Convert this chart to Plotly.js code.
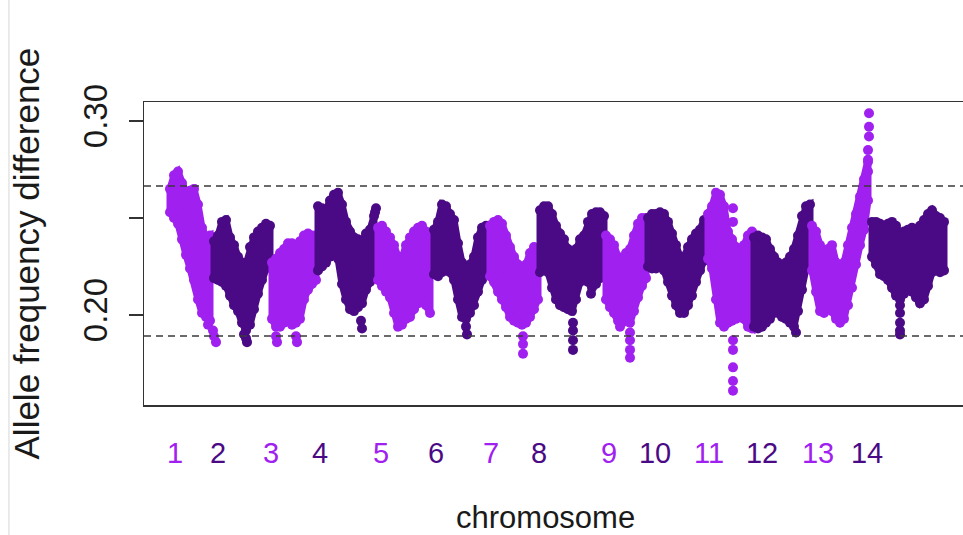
<!DOCTYPE html>
<html>
<head>
<meta charset="utf-8">
<script src="https://cdn.plot.ly/plotly-3.0.1.min.js"></script>
<style>
  html, body { margin: 0; padding: 0; background: #ffffff; overflow: hidden; }
  #chart { width: 980px; height: 535px; }
</style>
</head>
<body>
<div id="chart"></div>
<script>
// Chromosome layout along the genome axis (window index units)
const chromNames = ['1','2','3','4','5','6','7','8','9','10','11','12','13','14'];
const chromStart = [26, 70, 128, 174, 234, 290, 346, 396, 462, 504, 564, 610, 668, 728];
const windowStep = 4;
const labelPos = [31, 74, 127, 176, 237, 292, 347, 395, 465, 511, 565, 618, 674, 723];

// Upper / lower extent of the allele frequency difference per window, chromosome by chromosome
const c1Hi = [0.265,0.272,0.274,0.268,0.263,0.264,0.265,0.257,0.245,0.240,0.241];
const c1Lo = [0.253,0.250,0.247,0.239,0.231,0.224,0.218,0.208,0.201,0.199,0.197];
const c2Hi = [0.238,0.241,0.248,0.249,0.240,0.236,0.230,0.227,0.226,0.235,0.240,0.243,0.245,0.247,0.246];
const c2Lo = [0.219,0.218,0.217,0.215,0.210,0.205,0.202,0.196,0.192,0.195,0.203,0.211,0.218,0.224,0.227];
const c3Hi = [0.227,0.229,0.232,0.234,0.237,0.237,0.236,0.238,0.241,0.242,0.241,0.241];
const c3Lo = [0.198,0.194,0.194,0.196,0.197,0.195,0.196,0.198,0.208,0.213,0.216,0.218];
const c4Hi = [0.256,0.255,0.254,0.259,0.262,0.263,0.257,0.248,0.243,0.240,0.239,0.238,0.242,0.244,0.251];
const c4Lo = [0.223,0.225,0.227,0.230,0.233,0.229,0.216,0.208,0.203,0.202,0.204,0.206,0.213,0.217,0.220];
const c5Hi = [0.245,0.246,0.243,0.240,0.236,0.230,0.229,0.236,0.240,0.243,0.245,0.246,0.243,0.239];
const c5Lo = [0.218,0.215,0.212,0.209,0.201,0.194,0.195,0.198,0.199,0.203,0.206,0.207,0.205,0.201];
const c6Hi = [0.244,0.248,0.257,0.256,0.252,0.249,0.237,0.227,0.225,0.226,0.230,0.240,0.245,0.246];
const c6Lo = [0.221,0.220,0.222,0.223,0.222,0.218,0.208,0.199,0.198,0.201,0.205,0.212,0.218,0.222];
const c7Hi = [0.246,0.248,0.249,0.247,0.241,0.235,0.230,0.226,0.223,0.226,0.232,0.235,0.234];
const c7Lo = [0.220,0.217,0.212,0.208,0.204,0.199,0.197,0.196,0.195,0.196,0.199,0.203,0.208];
const c8Hi = [0.254,0.256,0.256,0.252,0.246,0.242,0.239,0.234,0.227,0.234,0.239,0.241,0.248,0.252,0.253,0.253,0.251];
const c8Lo = [0.222,0.224,0.222,0.214,0.208,0.205,0.204,0.203,0.202,0.208,0.217,0.220,0.217,0.214,0.216,0.219,0.220];
const c9Hi = [0.241,0.239,0.236,0.230,0.229,0.232,0.234,0.241,0.247,0.250,0.250];
const c9Lo = [0.208,0.204,0.201,0.197,0.196,0.197,0.196,0.202,0.209,0.215,0.219];
const c10Hi = [0.250,0.252,0.252,0.253,0.252,0.248,0.242,0.236,0.230,0.230,0.235,0.239,0.242,0.244,0.249];
const c10Lo = [0.225,0.224,0.224,0.225,0.223,0.217,0.210,0.205,0.201,0.201,0.205,0.210,0.217,0.223,0.228];
const c11Hi = [0.252,0.256,0.263,0.262,0.256,0.243,0.239,0.235,0.234,0.236,0.241,0.243];
const c11Lo = [0.229,0.224,0.208,0.196,0.194,0.196,0.197,0.198,0.199,0.198,0.194,0.193];
const c12Hi = [0.240,0.241,0.240,0.239,0.234,0.230,0.227,0.225,0.227,0.230,0.234,0.241,0.251,0.256,0.257];
const c12Lo = [0.194,0.193,0.194,0.196,0.198,0.201,0.201,0.199,0.198,0.196,0.194,0.202,0.213,0.224,0.233];
const c13Hi = [0.246,0.243,0.236,0.232,0.234,0.236,0.227,0.222,0.227,0.236,0.245,0.252,0.261,0.270,0.280];
const c13Lo = [0.223,0.212,0.202,0.201,0.203,0.202,0.198,0.196,0.198,0.205,0.214,0.226,0.236,0.244,0.259];
const c14Hi = [0.248,0.248,0.247,0.246,0.247,0.248,0.246,0.242,0.243,0.244,0.245,0.244,0.246,0.249,0.252,0.254,0.251,0.250,0.248];
const c14Lo = [0.230,0.226,0.221,0.220,0.218,0.214,0.210,0.208,0.211,0.213,0.212,0.209,0.206,0.208,0.215,0.222,0.223,0.222,0.223];

// Isolated SNP windows outside the main band (odd / even chromosomes)
const oddOutX  = [64, 69, 70, 72, 132, 133, 152, 153, 379, 379, 379, 476, 486, 486, 486, 486, 589, 589, 589, 589, 589, 589, 589, 725, 725, 725, 724, 724, 724];
const oddOutY  = [0.195, 0.192, 0.189, 0.186, 0.189, 0.186, 0.189, 0.186, 0.189, 0.185, 0.180, 0.194, 0.191, 0.187, 0.182, 0.178, 0.255, 0.248, 0.187, 0.182, 0.173, 0.166, 0.161, 0.304, 0.297, 0.292, 0.285, 0.279, 0.274];
const evenOutX = [100, 102, 103, 217, 218, 231, 232, 322, 323, 429, 429, 429, 429, 447, 652, 756, 756, 756, 756, 756];
const evenOutY = [0.190, 0.188, 0.186, 0.197, 0.193, 0.253, 0.255, 0.194, 0.190, 0.196, 0.192, 0.187, 0.182, 0.211, 0.191, 0.205, 0.201, 0.196, 0.192, 0.190];

// Significance thresholds
const thresholds = [0.2665, 0.1892];

const upper = [c1Hi, c2Hi, c3Hi, c4Hi, c5Hi, c6Hi, c7Hi, c8Hi, c9Hi, c10Hi, c11Hi, c12Hi, c13Hi, c14Hi];
const lower = [c1Lo, c2Lo, c3Lo, c4Lo, c5Lo, c6Lo, c7Lo, c8Lo, c9Lo, c10Lo, c11Lo, c12Lo, c13Lo, c14Lo];

const ODD = '#A020F0';
const EVEN = '#4B0A85';
const colorFor = i => (i % 2 === 0 ? ODD : EVEN);
const DOT = 10;

const traces = [];
chromNames.forEach((name, i) => {
  const col = colorFor(i);
  const xs = upper[i].map((_, j) => chromStart[i] + j * windowStep);
  // band body: closed outline along the upper extent, back along the lower extent, and shut
  traces.push({
    type: 'scatter', mode: 'lines',
    x: xs.concat(xs.slice().reverse(), [xs[0]]),
    y: upper[i].concat(lower[i].slice().reverse(), [upper[i][0]]),
    fill: 'toself', fillcolor: col,
    line: { width: 7, color: col },
    hoverinfo: 'skip', showlegend: false
  });
  // individual windows on both edges of the band
  traces.push({
    type: 'scatter', mode: 'markers', x: xs.concat(xs), y: upper[i].concat(lower[i]),
    marker: { size: DOT, color: col, line: { width: 0 } },
    hoverinfo: 'skip', showlegend: false
  });
});
traces.push({
  type: 'scatter', mode: 'markers', x: oddOutX, y: oddOutY,
  marker: { size: DOT, color: ODD, line: { width: 0 } }, hoverinfo: 'skip', showlegend: false
});
traces.push({
  type: 'scatter', mode: 'markers', x: evenOutX, y: evenOutY,
  marker: { size: DOT, color: EVEN, line: { width: 0 } }, hoverinfo: 'skip', showlegend: false
});

const tickText = chromNames.map((n, i) => '<span style="color:' + colorFor(i) + '">' + n + '</span>');

const FONT = '"Liberation Sans", Arial, sans-serif';

const shapes = thresholds.map(t => ({
  type: 'line', xref: 'paper', x0: 0, x1: 1, yref: 'y', y0: t, y1: t,
  line: { color: '#3a3a3a', width: 1.5, dash: '7px,5px' }, layer: 'above'
}));
// thin frame edge on the far left of the figure
shapes.push({
  type: 'line', xref: 'paper', x0: -0.1625, x1: -0.1625, yref: 'paper', y0: -0.43, y1: 1.34,
  line: { color: '#e4e4e4', width: 1.5 }
});

const layout = {
  width: 980, height: 535,
  margin: { l: 144, r: 5, t: 102, b: 130 },
  paper_bgcolor: '#ffffff', plot_bgcolor: '#ffffff',
  font: { family: FONT, color: '#1a1a1a' },
  showlegend: false,
  xaxis: {
    range: [0, 831], showgrid: false, zeroline: false,
    showline: true, mirror: true, linecolor: '#333333', linewidth: 1.5,
    ticks: '', tickmode: 'array', tickvals: labelPos, ticktext: tickText,
    tickfont: { size: 29, family: FONT }, ticklabelstandoff: 22
  },
  yaxis: {
    range: [0.1536, 0.3098], showgrid: false, zeroline: false,
    showline: true, mirror: true, linecolor: '#333333', linewidth: 1.5,
    ticks: 'outside', ticklen: 14, tickwidth: 1.5, tickcolor: '#333333',
    tickmode: 'array', tickvals: [0.20, 0.25, 0.30], ticktext: ['0.20', '', '0.30'],
    tickangle: -90, tickfont: { size: 33, family: FONT, color: '#1a1a1a' },
    ticklabelstandoff: 8
  },
  shapes: shapes,
  annotations: [
    {
      text: 'chromosome', xref: 'paper', yref: 'paper',
      x: 0.4826, y: -0.372, xanchor: 'center', yanchor: 'middle',
      showarrow: false, font: { size: 31, family: FONT, color: '#1a1a1a' }
    },
    {
      text: 'Allele frequency difference', xref: 'paper', yref: 'paper',
      x: -0.1408, y: 0.5, xanchor: 'center', yanchor: 'middle', textangle: -90,
      showarrow: false, font: { size: 35, family: FONT, color: '#1a1a1a' }
    }
  ]
};

Plotly.newPlot('chart', traces, layout, { staticPlot: true, displayModeBar: false });
</script>
</body>
</html>
